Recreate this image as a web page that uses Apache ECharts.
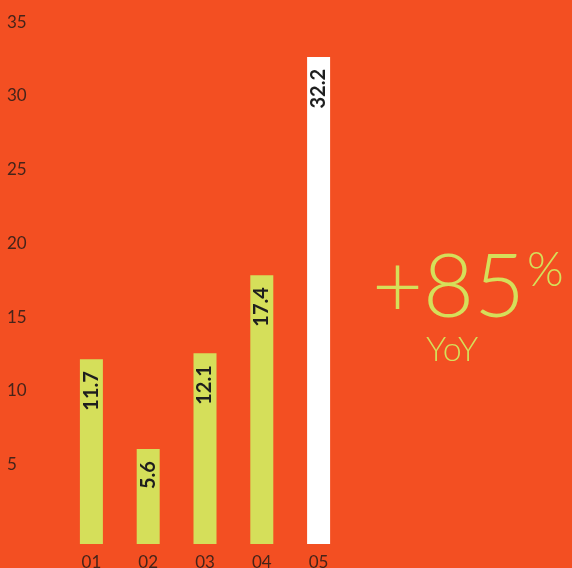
<!DOCTYPE html>
<html>
<head>
<meta charset="utf-8">
<style>
  html, body { margin: 0; padding: 0; background: #F34F22; }
  #chart { width: 572px; height: 568px; }
</style>
<script src="https://cdn.jsdelivr.net/npm/echarts@6/dist/echarts.min.js"></script>
</head>
<body>
<div id="chart"></div>
<script>
// Quarterly values
const categories = ['01', '02', '03', '04', '05'];
const values = [11.7, 5.6, 12.1, 17.4, 32.2];
const yTickValues = [5, 10, 15, 20, 25, 30, 35];
const headline = '+85';
const headlineUnit = '%';
const headlineCaption = 'YoY';

const BG = '#F34F22';
const LIME = '#D5DF5A';
const INK = '#45241A';

const chart = echarts.init(document.getElementById('chart'), null, { renderer: 'canvas' });

const axisFloor = -0.84;

chart.setOption({
  backgroundColor: BG,
  animation: false,
  grid: { left: 63, right: 225, top: 1, bottom: 24, outerBoundsMode: 'none' },
  xAxis: {
    type: 'category',
    data: categories,
    axisLine: { show: false },
    axisTick: { show: false },
    axisLabel: {
      color: INK,
      fontFamily: 'Lato, Inter, sans-serif',
      fontWeight: 'normal',
      fontSize: 17,
      margin: 10
    }
  },
  yAxis: {
    type: 'value',
    min: axisFloor,
    max: 36,
    startValue: axisFloor,
    splitLine: { show: false },
    axisLine: { show: false },
    axisTick: { show: false },
    axisLabel: {
      customValues: yTickValues,
      align: 'left',
      verticalAlign: 'top',
      lineHeight: 13,
      margin: 56,
      color: INK,
      fontFamily: 'Lato, Inter, sans-serif',
      fontWeight: 'normal',
      fontSize: 17
    }
  },
  series: [{
    type: 'bar',
    barWidth: 23,
    data: values.map((v, i) => ({
      value: v,
      itemStyle: { color: i === values.length - 1 ? '#FFFFFF' : LIME }
    })),
    label: {
      show: true,
      position: 'insideTop',
      rotate: 90,
      align: 'right',
      verticalAlign: 'middle',
      distance: 12,
      color: '#1E1E1E',
      fontFamily: 'Lato, Inter, sans-serif',
      fontWeight: 'bold',
      fontSize: 20
    }
  }],
  graphic: [
    {
      type: 'text',
      left: 372,
      top: 245,
      style: {
        text: headline,
        fill: LIME,
        font: '300 88px Lato, Inter, sans-serif'
      }
    },
    {
      type: 'text',
      left: 527,
      top: 247,
      style: {
        text: headlineUnit,
        fill: LIME,
        font: '300 47px Lato, Inter, sans-serif'
      }
    },
    {
      type: 'text',
      left: 426,
      top: 333,
      style: {
        text: headlineCaption,
        fill: LIME,
        font: '300 34px Lato, Inter, sans-serif'
      }
    }
  ]
});
</script>
</body>
</html>
